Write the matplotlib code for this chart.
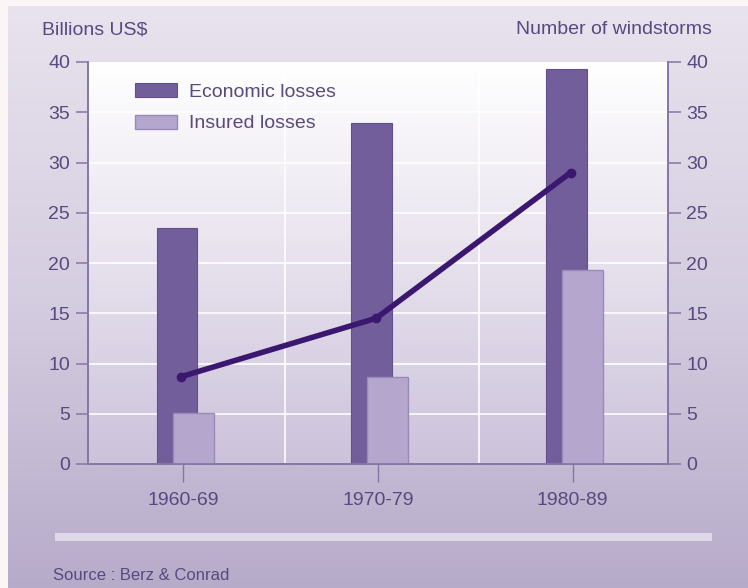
import numpy as np
import matplotlib
matplotlib.use("Agg")
import matplotlib.pyplot as plt
from matplotlib.colors import LinearSegmentedColormap
from matplotlib.patches import Rectangle

plt.rcParams['font.family'] = ['Liberation Sans', 'DejaVu Sans']

# ---- data ----
decades = ["1960-69", "1970-79", "1980-89"]
economic_losses = [23.5, 33.9, 39.3]
insured_losses = [5.1, 8.7, 19.3]
windstorms = [8.7, 14.5, 29.0]
yticks = [0, 5, 10, 15, 20, 25, 30, 35, 40]

txt = "#58497e"
spine_c = "#8576a6"
econ_c = "#725e9b"
ins_c = "#b4a6cc"
line_c = "#3b1770"

W, H = 748, 588
fig = plt.figure(figsize=(W / 100, H / 100), dpi=100)
fig.patch.set_facecolor("#fbf5f5")

# panel background gradient
bg = fig.add_axes([8 / W, 0, 1 - 8 / W, 1 - 6 / H])
bg.set_axis_off()
cmap_bg = LinearSegmentedColormap.from_list("bg", ["#e8e3ee", "#d5cde0", "#b7abca"])
grad = np.linspace(0, 1, 256).reshape(-1, 1)
bg.imshow(grad, aspect="auto", cmap=cmap_bg, extent=[0, 1, 0, 1], origin="upper")
bg.set_xlim(0, 1)
bg.set_ylim(0, 1)
bg.add_patch(Rectangle(((55 - 8) / (W - 8), (588 - 541) / (H - 6)), (712 - 55) / (W - 8),
                       8 / (H - 6), color="#dfd8e8", lw=0))

ax = fig.add_axes([88 / W, (588 - 464) / H, (668 - 88) / W, (464 - 62) / H])
x = np.arange(len(decades))
ax.set_xlim(-0.49, 2.49)
ax.set_ylim(0, 40)

# plot-area gradient
cmap_pa = LinearSegmentedColormap.from_list("pa", ["#ffffff", "#e7e1ed", "#ccc2db"])
ax.imshow(grad, aspect="auto", cmap=cmap_pa, extent=[-0.49, 2.49, 0, 40],
          origin="upper", zorder=0)

for yv in yticks[1:-1]:
    ax.axhline(yv, color="white", lw=1.3, zorder=1, alpha=0.9)
for xv in [0.52, 1.52]:
    ax.axvline(xv, color="white", lw=1.3, zorder=1, alpha=0.9)

bw = 0.21
ax.bar(x - 0.033, economic_losses, bw, color=econ_c, edgecolor="#634f8c", lw=0.8,
       zorder=2, label="Economic losses")
ax.bar(x + 0.051, insured_losses, bw, color=ins_c, edgecolor="#9a8ab8", lw=1.0,
       zorder=3, label="Insured losses")

ax2 = ax.twinx()
ax2.set_ylim(0, 40)
ax2.plot(x - 0.01, windstorms, color=line_c, lw=4, marker="o", ms=6,
         zorder=5, solid_capstyle="round", solid_joinstyle="round")

for a in (ax, ax2):
    a.spines["top"].set_visible(False)
    for s in ["left", "right", "bottom"]:
        a.spines[s].set_color(spine_c)
        a.spines[s].set_linewidth(1.2)

ax.set_yticks(yticks)
ax.set_yticklabels([str(v) for v in yticks])
ax2.set_yticks(yticks)
ax2.set_yticklabels([str(v) for v in yticks])
ax.set_xticks(x)
ax.set_xticklabels(decades)
ax.tick_params(axis="y", length=9, width=1.1, color=spine_c, labelcolor=txt,
               labelsize=14, pad=4)
ax2.tick_params(axis="y", length=9, width=1.1, color=spine_c, labelcolor=txt,
                labelsize=14, pad=4)
ax.tick_params(axis="x", length=13, width=1.0, color=spine_c, labelcolor=txt,
               labelsize=14, pad=7)

leg = ax.legend(loc="upper left", bbox_to_anchor=((135 - 88) / 580, (464 - 83) / 402),
                frameon=False, fontsize=14, labelcolor=txt, handlelength=2.15,
                handleheight=0.72, handletextpad=0.65, labelspacing=0.72,
                borderpad=0, borderaxespad=0)

fig.text(42 / W, 1 - 30 / H, "Billions US$", color=txt, fontsize=14, va="center", ha="left")
fig.text(712 / W, 1 - 30 / H, "Number of windstorms", color=txt, fontsize=14,
         va="center", ha="right")
fig.text(53 / W, 1 - 575 / H, "Source : Berz & Conrad", color=txt, fontsize=12,
         va="center", ha="left")

fig.savefig("out.png", dpi=100, facecolor=fig.get_facecolor())
